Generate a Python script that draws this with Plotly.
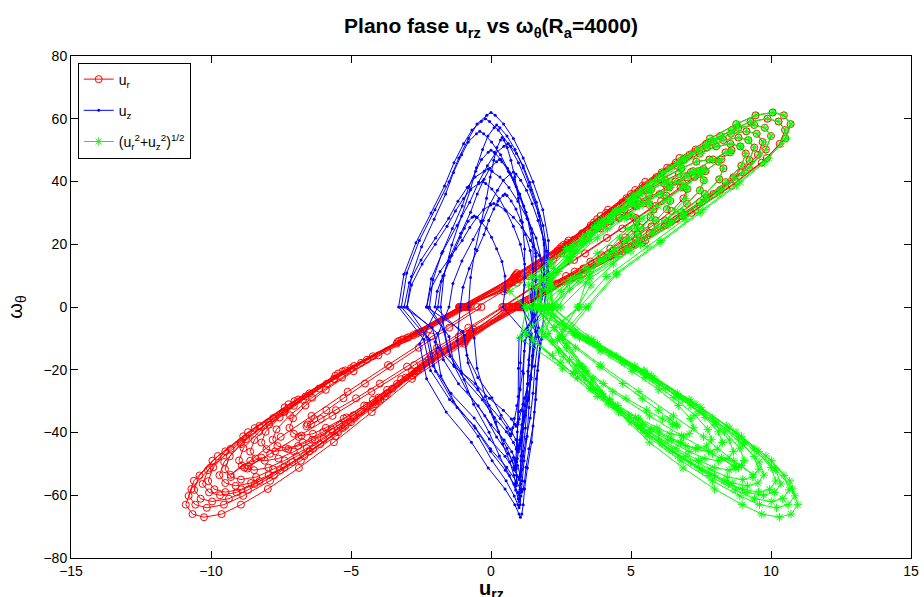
import numpy as np
import plotly.graph_objects as go

# Phase-plane samples: radial velocity u_r, axial velocity u_z and vorticity omega_theta.
# Each row is one half-oscillation (upper lobe, then lower lobe).
u_r = [
    -0.84, 0.93, 2.77, 4.18, 5.51, 6.73, 7.82, 8.76, 9.45, 10.06, 10.46, 10.7, 10.51, 9.85, 8.76, 7.30, 5.51, 3.31,
    1.12, -0.83, -2.46, -3.71, -4.89, -5.98, -6.94, -7.78, -8.39, -8.93, -9.29, -9.5, -9.33, -8.75, -7.78, -6.48, -4.89, -2.94,
    -1.00, 0.72, 2.15, 3.25, 4.27, 5.22, 6.07, 6.80, 7.33, 7.80, 8.12, 8.3, 8.15, 7.64, 6.80, 5.66, 4.27, 2.56,
    0.87, -0.95, -2.82, -4.26, -5.61, -6.86, -7.97, -8.93, -9.62, -10.25, -10.66, -10.9, -10.70, -10.04, -8.93, -7.43, -5.61, -3.37,
    -1.14, 0.84, 2.51, 3.79, 5.0, 6.10, 7.09, 7.94, 8.57, 9.12, 9.49, 9.7, 9.53, 8.93, 7.94, 6.62, 5.0, 3.0,
    1.02, -0.75, -2.23, -3.36, -4.43, -5.41, -6.29, -7.04, -7.59, -8.08, -8.41, -8.6, -8.45, -7.92, -7.04, -5.87, -4.43, -2.66,
    -0.90, 0.56, 1.66, 2.50, 3.30, 4.03, 4.68, 5.24, 5.65, 6.02, 6.26, 6.4, 6.28, 5.89, 5.24, 4.36, 3.30, 1.98,
    0.67, -0.92, -2.75, -4.14, -5.46, -6.67, -7.75, -8.68, -9.36, -9.96, -10.37, -10.6, -10.41, -9.76, -8.68, -7.23, -5.46, -3.28,
    -1.11, 0.79, 2.36, 3.56, 4.69, 5.72, 6.65, 7.45, 8.04, 8.55, 8.90, 9.1, 8.94, 8.38, 7.45, 6.21, 4.69, 2.81,
    0.96, -0.63, -1.86, -2.82, -3.71, -4.53, -5.26, -5.90, -6.36, -6.77, -7.04, -7.2, -7.07, -6.63, -5.90, -4.91, -3.71, -2.22,
    -0.76, 0.91, 2.72, 4.11, 5.41, 6.60, 7.68, 8.60, 9.27, 9.87, 10.27, 10.5, 10.31, 9.67, 8.60, 7.16, 5.41, 3.24,
    1.10, -0.88, -2.62, -3.95, -5.20, -6.35, -7.38, -8.27, -8.92, -9.49, -9.88, -10.1, -9.92, -9.30, -8.27, -6.89, -5.20, -3.12,
    -1.06, 0.66, 1.97, 2.97, 3.91, 4.78, 5.56, 6.22, 6.71, 7.14, 7.43, 7.6, 7.46, 7.0, 6.22, 5.18, 3.91, 2.35,
    0.80, -0.94, -2.80, -4.22, -5.56, -6.79, -7.89, -8.85, -9.54, -10.15, -10.56, -10.8, -10.61, -9.95, -8.85, -7.37, -5.56, -3.34,
    -1.13, 0.45, 1.35, 2.03, 2.68, 3.27, 3.80, 4.26, 4.59, 4.89, 5.09, 5.2, 5.11, 4.79, 4.26, 3.55, 2.68, 1.61,
    0.55, -0.78, -2.33, -3.52, -4.64, -5.66, -6.58, -7.37, -7.95, -8.46, -8.80, -9.0, -8.84, -8.29, -7.37, -6.14, -4.64, -2.78,
    -0.95, 0.87, 2.59, 3.91, 5.15, 6.29, 7.31, 8.19, 8.83, 9.40, 9.78, 10.0, 9.82, 9.21, 8.19, 6.82, 5.15, 3.09,
    1.05, -0.71, -2.12, -3.21, -4.22, -5.16, -5.99, -6.72, -7.24, -7.71, -8.02, -8.2, -8.05, -7.55, -6.72, -5.59, -4.22, -2.53,
    -0.86, 0.61, 1.81, 2.74, 3.61, 4.40, 5.12, 5.73, 6.18, 6.58, 6.85, 7.0, 6.87, 6.45, 5.73, 4.77, 3.61, 2.16,
    0.74, -0.90, -2.67, -4.03, -5.30, -6.48, -7.53, -8.44, -9.09, -9.68, -10.07, -10.3, -10.11, -9.49, -8.44, -7.02, -5.30, -3.18,
    -1.08, 0.82, 2.43, 3.68, 4.84, 5.91, 6.87, 7.70, 8.30, 8.84, 9.19, 9.4, 9.23, 8.66, 7.70, 6.41, 4.84, 2.90,
    0.99, -0.84, -2.51, -3.79, -5.0, -6.10, -7.09, -7.94, -8.57, -9.12, -9.49, -9.7, -9.53, -8.93, -7.94, -6.62, -5.0, -3.0,
    -1.02, 0.50, 1.50, 2.27, 2.99, 3.65, 4.24, 4.75, 5.12, 5.45, 5.67, 5.8, 5.70, 5.34, 4.75, 3.96, 2.99, 1.79,
    0.61, -0.68, -2.02, -3.05, -4.02, -4.91, -5.70, -6.39, -6.89, -7.33, -7.63, -7.8, -7.66, -7.18, -6.39, -5.32, -4.02, -2.41,
    -0.82, 1.05, 2.51, 3.90, 5.18, 6.29, 7.22, 7.92, 8.38, 8.59, 8.54, 8.22, 7.66, 6.87, 5.87, 4.69, 3.36, 1.94,
    0.45, -1.15, -2.74, -4.27, -5.66, -6.87, -7.89, -8.66, -8.70, -8.20, -8.90, -9.30, -8.60, -7.51, -6.41, -5.12, -3.68, -2.12,
    -0.49, 0.93, 2.22, 3.45, 4.58, 5.56, 6.38, 7.00, 7.40, 7.59, 7.55, 7.27, 6.77, 6.07, 5.18, 4.14, 2.97, 1.71,
    0.40, -0.81, -1.93, -3.00, -3.97, -4.82, -5.54, -6.08, -6.43, -6.59, -6.55, -6.31, -5.88, -5.27, -4.50, -3.60, -2.58, -1.49,
    -0.34,
]

u_z = [
    1.90, 2.05, 2.05, 1.85, 1.50, 1.15, 0.80, 0.45, 0.15, 0, -0.15, -0.50, -0.80, -1.15, -1.50, -2.00, -2.56, -3.01,
    -3.20, -2.30, -2.07, -1.43, -0.60, -0.06, 0.50, 0.82, 0.95, 1.0, 1.05, 1.10, 1.15, 1.25, 1.40, 1.50, 1.57, 1.70,
    1.51, 1.60, 1.60, 1.47, 1.25, 1.03, 0.81, 0.59, 0.39, 0.30, 0.20, -0.04, -0.25, -0.49, -0.73, -1.08, -1.46, -1.77,
    -1.90, -2.55, -2.30, -1.60, -0.70, -0.10, 0.50, 0.85, 1.00, 1.05, 1.10, 1.15, 1.20, 1.30, 1.45, 1.55, 1.62, 1.75,
    1.36, 1.50, 1.50, 1.31, 0.99, 0.66, 0.34, 0.02, -0.26, -0.40, -0.52, -0.81, -1.05, -1.34, -1.62, -2.03, -2.48, -2.84,
    -3.00, -1.90, -1.70, -1.16, -0.46, 0.0, 0.47, 0.74, 0.86, 0.90, 0.94, 0.98, 1.02, 1.10, 1.21, 1.30, 1.35, 1.45,
    1.43, 1.50, 1.50, 1.40, 1.23, 1.06, 0.89, 0.72, 0.57, 0.50, 0.43, 0.25, 0.10, -0.08, -0.25, -0.50, -0.78, -1.00,
    -1.10, -1.20, -1.05, -0.62, -0.07, 0.30, 0.66, 0.88, 0.97, 1.0, 1.01, 1.03, 1.04, 1.07, 1.11, 1.14, 1.16, 1.20,
    1.90, 2.00, 2.00, 1.86, 1.62, 1.38, 1.15, 0.91, 0.70, 0.60, 0.46, 0.15, -0.13, -0.44, -0.76, -1.21, -1.72, -2.13,
    -2.30, -1.70, -1.53, -1.07, -0.47, -0.07, 0.33, 0.57, 0.67, 0.70, 0.74, 0.78, 0.83, 0.92, 1.04, 1.13, 1.19, 1.30,
    1.75, 1.90, 1.90, 1.69, 1.33, 0.98, 0.62, 0.26, -0.05, -0.20, -0.35, -0.68, -0.98, -1.32, -1.66, -2.14, -2.68, -3.11,
    -3.30, -2.40, -2.16, -1.48, -0.60, -0.02, 0.56, 0.90, 1.05, 1.10, 1.15, 1.20, 1.25, 1.35, 1.50, 1.60, 1.67, 1.80,
    1.91, 2.00, 2.00, 1.88, 1.68, 1.47, 1.27, 1.06, 0.89, 0.80, 0.69, 0.44, 0.23, -0.03, -0.28, -0.64, -1.04, -1.36,
    -1.50, -2.00, -1.79, -1.21, -0.46, 0.04, 0.54, 0.83, 0.96, 1.0, 1.04, 1.07, 1.11, 1.18, 1.29, 1.36, 1.41, 1.50,
    0.42, 0.50, 0.50, 0.39, 0.20, 0.02, -0.17, -0.36, -0.52, -0.60, -0.67, -0.82, -0.95, -1.10, -1.26, -1.48, -1.72, -1.92,
    -2.00, -0.95, -0.82, -0.47, -0.02, 0.27, 0.57, 0.75, 0.82, 0.85, 0.87, 0.89, 0.91, 0.94, 0.99, 1.03, 1.05, 1.10,
    1.78, 1.90, 1.90, 1.73, 1.44, 1.15, 0.86, 0.57, 0.32, 0.20, 0.11, -0.11, -0.30, -0.52, -0.74, -1.05, -1.40, -1.68,
    -1.80, -1.65, -1.47, -0.96, -0.31, 0.12, 0.55, 0.80, 0.91, 0.95, 1.00, 1.04, 1.09, 1.18, 1.32, 1.42, 1.48, 1.60,
    1.09, 1.20, 1.20, 1.05, 0.80, 0.54, 0.29, 0.03, -0.19, -0.30, -0.43, -0.72, -0.98, -1.27, -1.57, -1.99, -2.46, -2.84,
    -3.00, -2.20, -1.98, -1.36, -0.56, -0.02, 0.51, 0.82, 0.96, 1.0, 1.03, 1.06, 1.09, 1.14, 1.23, 1.29, 1.32, 1.40,
    1.14, 1.20, 1.20, 1.12, 0.98, 0.85, 0.71, 0.58, 0.46, 0.40, 0.34, 0.21, 0.10, -0.03, -0.16, -0.35, -0.56, -0.73,
    -0.80, -0.60, -0.50, -0.20, 0.17, 0.42, 0.67, 0.82, 0.88, 0.90, 0.91, 0.91, 0.92, 0.94, 0.96, 0.97, 0.98, 1.00,
    1.77, 1.90, 1.90, 1.72, 1.41, 1.11, 0.80, 0.50, 0.23, 0.10, -0.01, -0.27, -0.50, -0.76, -1.03, -1.40, -1.82, -2.16,
    -2.30, -1.00, -0.86, -0.47, 0.03, 0.36, 0.69, 0.89, 0.97, 1.0, 1.04, 1.08, 1.13, 1.22, 1.34, 1.43, 1.49, 1.60,
    1.48, 1.60, 1.60, 1.44, 1.17, 0.90, 0.62, 0.35, 0.12, 0, -0.10, -0.34, -0.55, -0.79, -1.03, -1.38, -1.76, -2.07,
    -2.20, -1.50, -1.33, -0.84, -0.22, 0.20, 0.62, 0.86, 0.90, 0.80, 0.95, 1.04, 1.07, 1.11, 1.18, 1.29, 1.36, 1.41,
    1.50, 1.80, 1.80, 1.61, 1.29, 0.96, 0.64, 0.32, 0.04, -0.10, -0.24, -0.57, -0.85, -1.18, -1.51, -1.98, -2.50, -2.92,
    -3.10, -2.10, -1.89, -1.31, -0.56, -0.06, 0.44, 0.73, 0.86, 0.90, 0.96, 1.01, 1.08, 1.19, 1.36, 1.48, 1.55, 1.70,
    1.60,
]

omega = [
    0, 10.8, 21.2, 31.0, 39.9, 47.5, 53.7, 58.3, 61.1, 62.0, 61.1, 58.3, 53.7, 47.5, 39.9, 31.0, 21.2, 10.8,
    0, -9.6, -18.8, -27.5, -35.4, -42.1, -47.6, -51.7, -54.2, -55.0, -54.2, -51.7, -47.6, -42.1, -35.4, -27.5, -18.8, -9.6,
    0, 8.2, 16.1, 23.5, 30.2, 36.0, 40.7, 44.2, 46.3, 47.0, 46.3, 44.2, 40.7, 36.0, 30.2, 23.5, 16.1, 8.2,
    0, -11.7, -22.9, -33.5, -43.1, -51.3, -58.0, -63.0, -66.0, -67.0, -66.0, -63.0, -58.0, -51.3, -43.1, -33.5, -22.9, -11.7,
    0, 9.7, 19.2, 28.0, 36.0, 42.9, 48.5, 52.6, 55.2, 56.0, 55.2, 52.6, 48.5, 42.9, 36.0, 28.0, 19.2, 9.7,
    0, -8.5, -16.8, -24.5, -31.5, -37.5, -42.4, -46.1, -48.3, -49.0, -48.3, -46.1, -42.4, -37.5, -31.5, -24.5, -16.8, -8.5,
    0, 6.3, 12.3, 18.0, 23.1, 27.6, 31.2, 33.8, 35.5, 36.0, 35.5, 33.8, 31.2, 27.6, 23.1, 18.0, 12.3, 6.3,
    0, -10.8, -21.2, -31.0, -39.9, -47.5, -53.7, -58.3, -61.1, -62.0, -61.1, -58.3, -53.7, -47.5, -39.9, -31.0, -21.2, -10.8,
    0, 9.0, 17.8, 26.0, 33.4, 39.8, 45.0, 48.9, 51.2, 52.0, 51.2, 48.9, 45.0, 39.8, 33.4, 26.0, 17.8, 9.0,
    0, -7.1, -14.0, -20.5, -26.4, -31.4, -35.5, -38.5, -40.4, -41.0, -40.4, -38.5, -35.5, -31.4, -26.4, -20.5, -14.0, -7.1,
    0, 10.4, 20.5, 30.0, 38.6, 46.0, 52.0, 56.4, 59.1, 60.0, 59.1, 56.4, 52.0, 46.0, 38.6, 30.0, 20.5, 10.4,
    0, -10.3, -20.2, -29.5, -37.9, -45.2, -51.1, -55.5, -58.1, -59.0, -58.1, -55.5, -51.1, -45.2, -37.9, -29.5, -20.2, -10.3,
    0, 7.5, 14.7, 21.5, 27.6, 32.9, 37.2, 40.4, 42.4, 43.0, 42.4, 40.4, 37.2, 32.9, 27.6, 21.5, 14.7, 7.5,
    0, -11.1, -21.9, -32.0, -41.2, -49.0, -55.4, -60.2, -63.0, -64.0, -63.0, -60.2, -55.4, -49.0, -41.2, -32.0, -21.9, -11.1,
    0, 5.0, 9.9, 14.5, 18.6, 22.2, 25.1, 27.3, 28.6, 29.0, 28.6, 27.3, 25.1, 22.2, 18.6, 14.5, 9.9, 5.0,
    0, -9.0, -17.8, -26.0, -33.4, -39.8, -45.0, -48.9, -51.2, -52.0, -51.2, -48.9, -45.0, -39.8, -33.4, -26.0, -17.8, -9.0,
    0, 10.1, 19.8, 29.0, 37.3, 44.4, 50.2, 54.5, 57.1, 58.0, 57.1, 54.5, 50.2, 44.4, 37.3, 29.0, 19.8, 10.1,
    0, -8.0, -15.7, -23.0, -29.6, -35.2, -39.8, -43.2, -45.3, -46.0, -45.3, -43.2, -39.8, -35.2, -29.6, -23.0, -15.7, -8.0,
    0, 7.0, 13.7, 20.0, 25.7, 30.6, 34.6, 37.6, 39.4, 40.0, 39.4, 37.6, 34.6, 30.6, 25.7, 20.0, 13.7, 7.0,
    0, -10.4, -20.5, -30.0, -38.6, -46.0, -52.0, -56.4, -59.1, -60.0, -59.1, -56.4, -52.0, -46.0, -38.6, -30.0, -20.5, -10.4,
    0, 9.4, 18.5, 27.0, 34.7, 41.4, 46.8, 50.8, 53.2, 54.0, 53.2, 50.8, 46.8, 41.4, 34.7, 27.0, 18.5, 9.4,
    0, -9.9, -19.5, -28.5, -36.7, -43.7, -49.4, -53.6, -56.1, -57.0, -56.1, -53.6, -49.4, -43.7, -36.7, -28.5, -19.5, -9.9,
    0, 5.7, 11.3, 16.5, 21.2, 25.3, 28.6, 31.0, 32.5, 33.0, 32.5, 31.0, 28.6, 25.3, 21.2, 16.5, 11.3, 5.7,
    0, -7.8, -15.4, -22.5, -28.9, -34.5, -39.0, -42.3, -44.3, -45.0, -44.3, -42.3, -39.0, -34.5, -28.9, -22.5, -15.4, -7.8,
    0, 8.7, 17.1, 25.0, 32.2, 38.3, 43.3, 47.0, 49.3, 50.0, 49.3, 47.0, 43.3, 38.3, 32.2, 25.0, 17.1, 8.7,
    0, -9.4, -18.5, -27.0, -34.7, -41.4, -46.8, -50.8, -51.5, -48.0, -50.5, -53.5, -49.0, -41.4, -34.7, -27.0, -18.5, -9.4,
    0, 7.7, 15.0, 22.0, 28.3, 33.7, 38.1, 41.4, 43.3, 44.0, 43.3, 41.4, 38.1, 33.7, 28.3, 22.0, 15.0, 7.7,
    0, -6.6, -13.0, -19.0, -24.4, -29.1, -32.9, -35.7, -37.4, -38.0, -37.4, -35.7, -32.9, -29.1, -24.4, -19.0, -13.0, -6.6,
    0,
]

x_ticks = [-15, -10, -5, 0, 5, 10, 15]
y_ticks = [-80, -60, -40, -20, 0, 20, 40, 60, 80]

ur = np.array(u_r)
uz = np.array(u_z)
w = np.array(omega)
u_mag = np.sqrt(ur ** 2 + uz ** 2)  # |u| = (u_r^2 + u_z^2)^(1/2)

FONT = "Liberation Sans, Arial, Helvetica, sans-serif"

fig = go.Figure()
fig.add_trace(go.Scatter(
    x=ur, y=w, mode="lines+markers", name="u<sub>r</sub>", legendgroup="a",
    line=dict(color="#ff0000", width=1),
    marker=dict(symbol="circle-open", size=7, color="#ff0000", line=dict(width=1, color="#ff0000")),
))
fig.add_trace(go.Scatter(
    x=uz, y=w, mode="lines+markers", name="u<sub>z</sub>", legendgroup="b",
    line=dict(color="#0000ff", width=1),
    marker=dict(symbol="circle", size=3, color="#0000ff"),
))
fig.add_trace(go.Scatter(
    x=u_mag, y=w, mode="lines+markers", legendgroup="c",
    name="(u<sub>r</sub><sup>2</sup>+u<sub>z</sub><sup>2</sup>)<sup>1/2</sup>",
    line=dict(color="#00ff00", width=1),
    marker=dict(symbol="asterisk-open", size=7, color="#00ff00", line=dict(width=1, color="#00ff00")),
))

axis_common = dict(
    showline=True, linecolor="black", linewidth=1, mirror="ticks",
    ticks="inside", ticklen=7, tickcolor="black", tickwidth=1,
    showgrid=False, zeroline=False, automargin=False,
    tickfont=dict(family=FONT, size=14, color="black"),
)

fig.update_layout(
    width=924, height=597,
    margin=dict(l=71, r=13, t=56, b=39),
    paper_bgcolor="white", plot_bgcolor="white",
    font=dict(family=FONT, color="black"),
    title=dict(
        text="<b>Plano fase u<sub>rz</sub> vs ω<sub>θ</sub>(R<sub>a</sub>=4000)</b>",
        x=0.5, xref="paper", xanchor="center",
        y=1 - 26 / 597, yref="container", yanchor="middle",
        font=dict(family=FONT, size=21, color="black"),
    ),
    xaxis=dict(range=[-15, 15], tickvals=x_ticks, **axis_common),
    yaxis=dict(
        range=[-80, 80], tickvals=y_ticks,
        title=dict(text="ω<sub>θ</sub>", font=dict(family=FONT, size=20)),
        **axis_common,
    ),
    legend=dict(
        x=0.008, y=0.987, xanchor="left", yanchor="top",
        bgcolor="white", bordercolor="black", borderwidth=1,
        font=dict(family=FONT, size=14, color="black"),
        tracegroupgap=10,
    ),
    annotations=[dict(
        text="<b>u<sub>rz</sub></b>", showarrow=False,
        x=0.5, xref="paper", xanchor="center",
        y=-0.034, yref="paper", yanchor="top",
        font=dict(family=FONT, size=20, color="black"),
    )],
)

fig.write_html("out.html")
